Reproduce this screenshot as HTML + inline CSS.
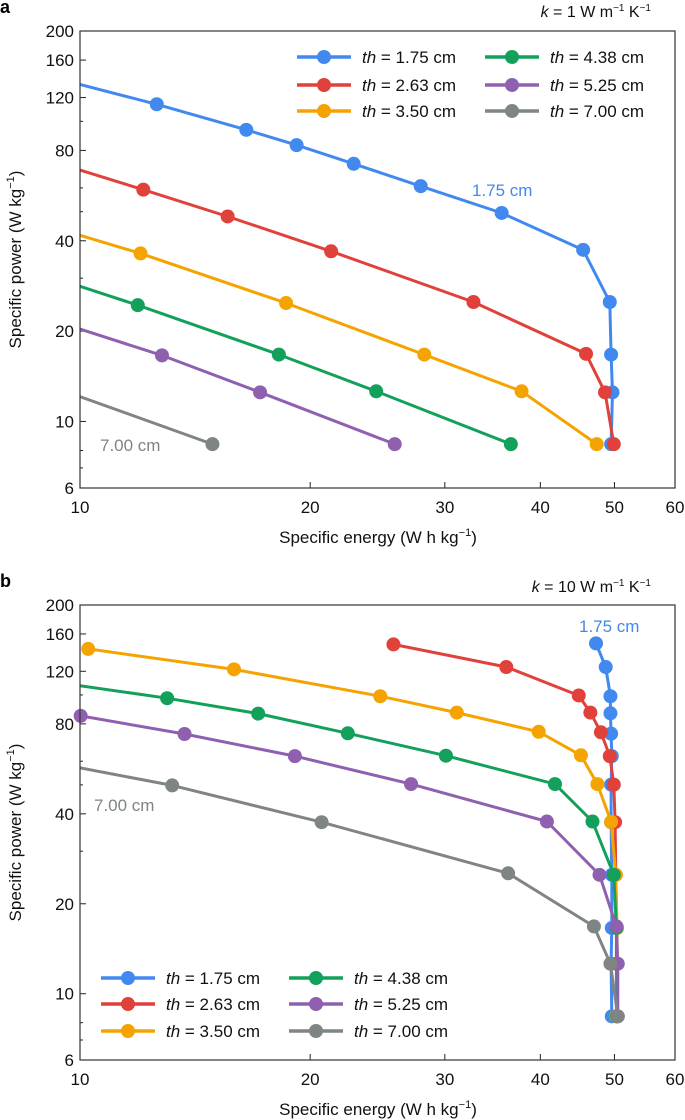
<!DOCTYPE html>
<html><head><meta charset="utf-8">
<style>
html,body{margin:0;padding:0;background:#fff;}
svg{display:block;font-family:"Liberation Sans",Arial,sans-serif;}
</style></head>
<body>
<svg id="chart" width="685" height="1120" viewBox="0 0 685 1120"></svg>
<script>
// ---- data ----
const seriesNames = ["th = 1.75 cm","th = 2.63 cm","th = 3.50 cm","th = 4.38 cm","th = 5.25 cm","th = 7.00 cm"];
const seriesColors = ["#4189ef","#e0413a","#f5a300","#13a05a","#9060b0","#7f8584"];
const yTicks = [200,160,120,80,40,20,10,6];
const yMinor = [100,60,50,30,8,7];
const xTicks = [10,20,30,40,50,60];

// panel a, k = 1
const aEnergy = [
 [10,12.6,16.5,19.2,22.8,27.9,35.6,45.5,49.3,49.5,49.7,49.5],
 [10,12.1,15.6,21.3,32.7,45.9,48.6,49.9],
 [10,12.0,18.6,28.2,37.8,47.4],
 [10,11.9,18.2,24.4,36.6],
 [10,12.8,17.2,25.8],
 [10,14.9]
];
const aPower = [
 [132.7,114,93.7,83.3,72.2,60.8,49.5,37.3,25,16.7,12.5,8.4],
 [68.8,59.2,48.2,36.9,25,16.8,12.5,8.4],
 [41.7,36.3,24.8,16.7,12.6,8.4],
 [28.2,24.4,16.7,12.6,8.4],
 [20.3,16.6,12.5,8.4],
 [12.1,8.4]
];
// panel b, k = 10
const bEnergy = [
 [47.3,48.7,49.4,49.4,49.5,49.6,49.5,49.5,49.6,49.6,49.5,49.6],
 [25.7,36.1,44.9,46.5,48.0,49.3,49.9,50.1,50.2,50.3,50.3,50.3],
 [10.25,15.9,24.7,31.1,39.8,45.2,47.5,49.5,50.2,50.4,50.4,50.3],
 [10,13.0,17.1,22.4,30.1,41.8,46.8,49.9,50.3,50.4,50.4],
 [10.02,13.7,19.1,27.1,40.8,47.8,50.3,50.5,50.5],
 [10,13.2,20.7,36.3,47.0,49.4,50.5]
];
const bPower = [
 [148.8,124,99,86.8,74.2,62.4,50.1,37.5,25,16.6,12.6,8.4],
 [147.6,124,99.6,87.3,75,62.4,50.1,37.5,25,16.7,12.6,8.4],
 [142.6,121.8,99,87.3,75.3,62.8,50.3,37.6,25,16.6,12.6,8.4],
 [107.4,97.5,86.6,74.4,62.6,50.3,37.7,25,16.6,12.6,8.4],
 [85.1,74,62.4,50.3,37.7,25,16.8,12.6,8.4],
 [57,49.8,37.5,25.3,16.8,12.6,8.4]
];

const NS="http://www.w3.org/2000/svg";
const svg=document.getElementById('chart');
function mk(tag,attrs,parent){const e=document.createElementNS(NS,tag);for(const k in attrs)e.setAttribute(k,attrs[k]);(parent||svg).appendChild(e);return e;}

function panel(cfg){
  const L=80,R=675,T=cfg.top,B=cfg.bottom;
  const xs=v=>L+(R-L)*Math.log10(v/10)/Math.log10(6);
  const ys=v=>B-(B-T)*Math.log10(v/6)/Math.log10(200/6);
  const g=mk('g',{});
  
  
  const cid='clip'+cfg.name;
  const cp=mk('clipPath',{id:cid},g);mk('rect',{x:L,y:T,width:R-L,height:B-T},cp);
  // ticks
  yTicks.forEach(v=>{
    const t=mk('line',{x1:L,x2:L+6,y1:ys(v),y2:ys(v),stroke:'#222','stroke-width':1},g);
    
    const tx=mk('text',{x:L-6,y:ys(v)+6,'text-anchor':'end','font-size':17,fill:'#111'},g);
    tx.textContent=v;
    
  });
  yMinor.forEach(v=>{
    const t=mk('line',{x1:L,x2:L+3,y1:ys(v),y2:ys(v),stroke:'#222','stroke-width':1},g);
    
  });
  xTicks.forEach(v=>{
    const t=mk('line',{x1:xs(v),x2:xs(v),y1:B,y2:B-6,stroke:'#222','stroke-width':1},g);
    
    const tx=mk('text',{x:xs(v),y:B+25,'text-anchor':'middle','font-size':17,fill:'#111'},g);
    tx.textContent=v;
    
  });
  // series
  const sg=mk('g',{'clip-path':'url(#'+cid+')'},g);
  cfg.E.forEach((ex,i)=>{
    const py=cfg.P[i];
    const pts=ex.map((x,j)=>xs(x).toFixed(1)+','+ys(py[j]).toFixed(1)).join(' ');
    const pl=mk('polyline',{points:pts,fill:'none',stroke:seriesColors[i],'stroke-width':3,'stroke-linejoin':'round'},sg);
    
  });
  cfg.E.forEach((ex,i)=>{
    const py=cfg.P[i];
    ex.forEach((x,j)=>{
      if(x<=10.001)return;
      const c=mk('circle',{cx:xs(x),cy:ys(py[j]),r:7,fill:seriesColors[i]},g);
      
    });
  });
  // axes
  const ax=mk('rect',{x:L,y:T,width:R-L,height:B-T,fill:'none',stroke:'#333','stroke-width':1.2},g);
  
  // legend
  cfg.legend.forEach((p,i)=>{
    const lg=mk('g',{},g);
    
    mk('line',{x1:p[0],x2:p[0]+54,y1:p[1],y2:p[1],stroke:seriesColors[i],'stroke-width':3.5},lg);
    mk('circle',{cx:p[0]+27,cy:p[1],r:7,fill:seriesColors[i]},lg);
    const t=mk('text',{x:p[0]+65,y:p[1]+6,'font-size':17,fill:'#111'},lg);
    t.innerHTML='<tspan font-style="italic">th</tspan> = '+seriesNames[i].split('= ')[1];
  });
  // labels
  const l1=mk('text',{x:cfg.blueLbl[0],y:cfg.blueLbl[1],'font-size':17,fill:seriesColors[0]},g);
  l1.textContent='1.75 cm';
  const l2=mk('text',{x:cfg.grayLbl[0],y:cfg.grayLbl[1],'font-size':17,fill:seriesColors[5]},g);
  l2.textContent='7.00 cm';
  const kt=mk('text',{x:651,y:cfg.kY,'text-anchor':'end','font-size':16,fill:'#111'},g);
  kt.innerHTML='<tspan font-style="italic">k</tspan> = '+cfg.k+' W m<tspan font-size="10" dy="-6">−1</tspan><tspan dy="6"> K</tspan><tspan font-size="10" dy="-6">−1</tspan>';
  
  const pl=mk('text',{x:0,y:cfg.top-18,'font-size':18,'font-weight':'bold',fill:'#000'},g);
  pl.textContent=cfg.letter;
  const xt=mk('text',{x:378,y:B+55,'text-anchor':'middle','font-size':17,fill:'#111'},g);
  xt.innerHTML='Specific energy (W h kg<tspan font-size="11" dy="-7">−1</tspan><tspan dy="7">)</tspan>';
  
  const yc=(T+B)/2;
  const yt=mk('text',{x:0,y:0,'text-anchor':'middle','font-size':17,fill:'#111',transform:'translate(21,'+yc+') rotate(-90)'},g);
  yt.innerHTML='Specific power (W kg<tspan font-size="11" dy="-7">−1</tspan><tspan dy="7">)</tspan>';
  
}

panel({name:'panel-a',letter:'a',k:'1',top:31,bottom:488,kY:17,E:aEnergy,P:aPower,
  legend:[[297,57],[297,85],[297,111],[485,57],[485,85],[485,111]],
  blueLbl:[472,196],grayLbl:[100,451]});
panel({name:'panel-b',letter:'b',k:'10',top:605,bottom:1060,kY:592,E:bEnergy,P:bPower,
  legend:[[101,978],[101,1004],[101,1031],[289,978],[289,1004],[289,1031]],
  blueLbl:[579,632],grayLbl:[94,811]});
</script>
</body></html>
